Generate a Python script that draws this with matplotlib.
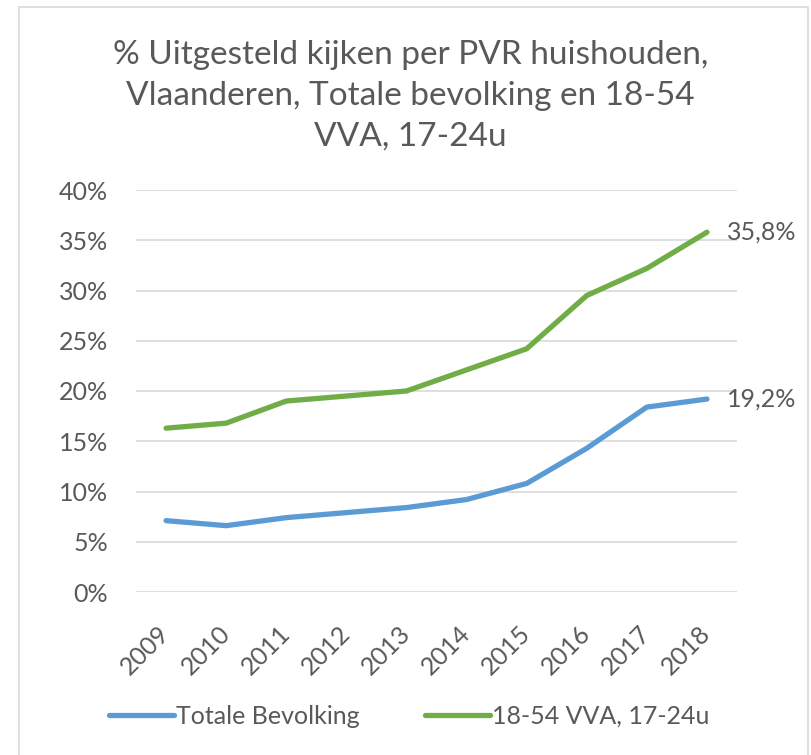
import matplotlib.pyplot as plt
from matplotlib.patches import Rectangle
from matplotlib.ticker import FuncFormatter

plt.rcParams['font.family'] = ['Lato', 'DejaVu Sans']

YEARS = ["2009", "2010", "2011", "2012", "2013", "2014", "2015", "2016", "2017", "2018"]
TOTAAL = [7.1, 6.6, 7.4, 7.9, 8.4, 9.2, 10.8, 14.3, 18.4, 19.2]
VVA = [16.3, 16.8, 19.0, 19.5, 20.0, 22.1, 24.2, 29.5, 32.2, 35.8]
SERIES = ["Totale Bevolking", "18-54 VVA, 17-24u"]
COLORS = ["#5B9BD5", "#70AD47"]
TXT = "#595959"

fig = plt.figure(figsize=(8.11, 7.55), dpi=100)
fig.patches.append(Rectangle((19 / 811, -0.01), 789 / 811, 1 - 7 / 755 + 0.01,
                             transform=fig.transFigure, fill=False,
                             edgecolor="#D9D9D9", lw=1.2))

ax = fig.add_axes([136 / 811, 1 - 592 / 755, 601 / 811, 402 / 755])
x = range(len(YEARS))
for vals, lab, col in zip([TOTAAL, VVA], SERIES, COLORS):
    ax.plot(x, vals, color=col, lw=3.8, solid_capstyle="round",
            solid_joinstyle="round", label=lab, zorder=3)
    ax.text(len(YEARS) - 1 + 0.33, vals[-1], f"{vals[-1]:.1f}%".replace(".", ","),
            color=TXT, fontsize=18, ha="left", va="center")

ax.set_xlim(-0.5, len(YEARS) - 0.5)
ax.set_ylim(0, 40)
ax.set_yticks(range(0, 41, 5))
ax.yaxis.set_major_formatter(FuncFormatter(lambda v, p: f"{v:.0f}%"))
ax.set_xticks(list(x))
ax.set_xticklabels(YEARS, rotation=45, ha="right", va="center",
                   rotation_mode="anchor")
ax.tick_params(axis="both", length=0, colors=TXT, labelsize=18)
ax.tick_params(axis="y", pad=20)
ax.tick_params(axis="x", pad=27)
ax.grid(axis="y", color="#D9D9D9", lw=1.2)
ax.set_axisbelow(True)
for s in ax.spines.values():
    s.set_visible(False)

fig.text(0.506, 1 - 96 / 755, "% Uitgesteld kijken per PVR huishouden,\n"
         "Vlaanderen, Totale bevolking en 18-54\nVVA, 17-24u",
         ha="center", va="center", fontsize=24, color=TXT, linespacing=1.45)

fig.legend(loc="center", bbox_to_anchor=(409 / 811, 1 - 716 / 755), ncol=2,
           frameon=False, fontsize=18, handlelength=2.6, handletextpad=0.1,
           columnspacing=2.6, labelcolor=TXT)

fig.savefig("out.png", dpi=100)
